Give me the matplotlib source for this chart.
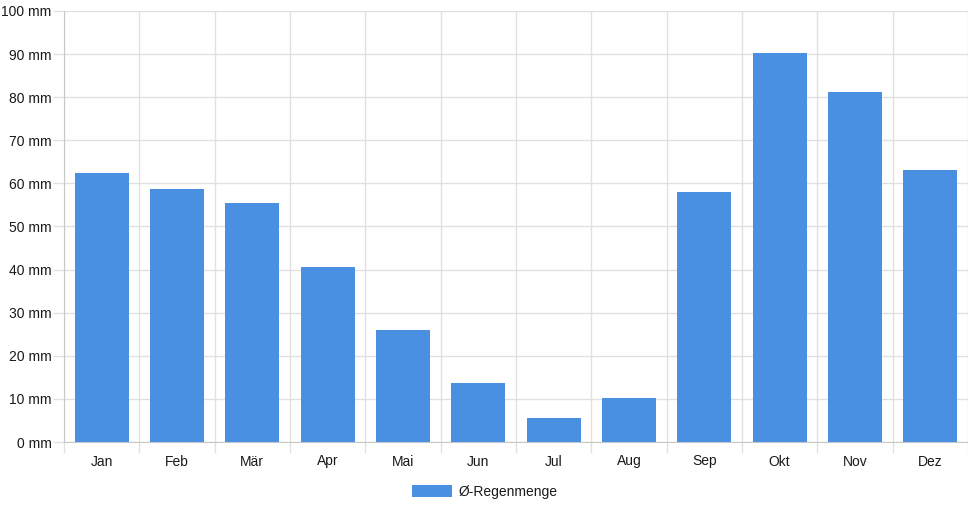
import matplotlib
matplotlib.use('Agg')
import matplotlib.pyplot as plt
import numpy as np

# monthly average rainfall (mm)
months = ['Jan', 'Feb', 'Mär', 'Apr', 'Mai', 'Jun',
          'Jul', 'Aug', 'Sep', 'Okt', 'Nov', 'Dez']
rain = [62.3, 58.8, 55.5, 40.7, 26.0, 13.6, 5.6, 10.2, 58.1, 90.3, 81.2, 63.1]
y_ticks = [0, 10, 20, 30, 40, 50, 60, 70, 80, 90, 100]

plt.rcParams['font.family'] = ['Liberation Sans', 'DejaVu Sans']

W, H = 968, 508
fig = plt.figure(figsize=(W / 100, H / 100), dpi=100)
ax = fig.add_axes([64 / W, (H - 442) / H, 904 / W, 431 / H])

grid_col = '#e1e1e1'
axis_col = '#c8c8c8'
bar_col = '#4a90e2'
txt_col = '#1a1a1a'

x = np.arange(len(months))
ax.bar(x, rain, width=0.72, color=bar_col, label='Ø-Regenmenge', zorder=3)

ax.set_xlim(-0.5, len(months) - 0.5)
ax.set_ylim(0, 100)

ax.set_yticks(y_ticks)
ax.set_yticklabels([f'{v} mm' for v in y_ticks])
ax.set_xticks(x)
ax.set_xticklabels(months)
ax.set_xticks(np.arange(len(months) + 1) - 0.5, minor=True)

ax.tick_params(axis='x', which='major', length=0, pad=9, labelsize=10, labelcolor=txt_col)
ax.tick_params(axis='x', which='minor', length=8, color=grid_col, width=1)
ax.tick_params(axis='y', length=8, color=grid_col, width=1, pad=1, labelsize=10, labelcolor=txt_col)

ax.grid(axis='y', color=grid_col, linewidth=1, zorder=0)
ax.grid(axis='x', which='minor', color=grid_col, linewidth=1, zorder=0)

for side in ['top', 'right']:
    ax.spines[side].set_visible(False)
ax.spines['left'].set_color(axis_col)
ax.spines['bottom'].set_color(axis_col)

leg = ax.legend(loc='center', bbox_to_anchor=(0.465, -0.115), frameon=False,
                fontsize=10, handlelength=2.9, handleheight=0.95, handletextpad=0.45)
for t in leg.get_texts():
    t.set_color(txt_col)

fig.savefig('out.png', dpi=100)
